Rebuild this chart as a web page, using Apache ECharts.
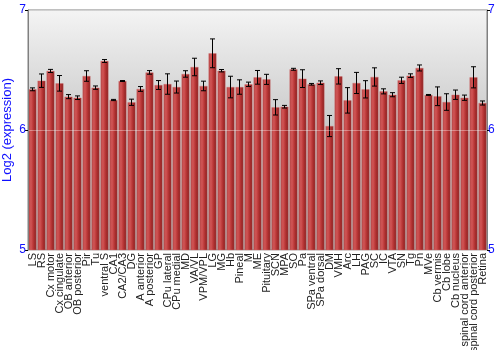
<!DOCTYPE html>
<html><head><meta charset="utf-8">
<script src="https://cdn.jsdelivr.net/npm/echarts@6/dist/echarts.min.js"></script>
<style>html,body{margin:0;padding:0;background:#fff}#c{width:500px;height:350px}</style>
</head><body><div id="c"></div>
<script>
const categories = ["LS","RS","Cx motor","Cx cingulate","OB anterior","OB posterior","Pir","Tu","ventral S","CA1","CA2/CA3","DG","A anterior","A posterior","GP","CPu lateral","CPu medial","MD","VA/VL","VPM/VPL","LG","MG","Hb","Pineal","M","ME","Pituitary","SCN","MPA","SO","Pa","SPa ventral","SPa dorsal","DM","VMH","Arc","LH","PAG","SC","IC","VTA","SN","Tg","Pn","MVe","Cb vermis","Cb lobe","Cb nucleus","spinal cord anterior","spinal cord posterior","Retina"];
const values = [6.339,6.411,6.492,6.389,6.278,6.269,6.450,6.353,6.575,6.250,6.408,6.231,6.342,6.480,6.375,6.383,6.358,6.467,6.525,6.367,6.639,6.494,6.358,6.358,6.381,6.439,6.422,6.189,6.194,6.506,6.428,6.381,6.394,6.033,6.447,6.247,6.392,6.339,6.442,6.322,6.294,6.414,6.453,6.517,6.292,6.281,6.233,6.294,6.269,6.439,6.225];
const errors = [0.012,0.056,0.013,0.065,0.017,0.015,0.044,0.014,0.012,0.005,0.004,0.026,0.020,0.015,0.037,0.085,0.050,0.027,0.073,0.040,0.120,0.010,0.090,0.060,0.018,0.057,0.042,0.064,0.011,0.008,0.074,0.007,0.015,0.088,0.064,0.106,0.088,0.072,0.076,0.021,0.017,0.026,0.015,0.025,0.004,0.078,0.069,0.039,0.022,0.088,0.017];
const yTicks = [5, 6, 7];

const chart = echarts.init(document.getElementById('c'), null, {renderer:'canvas'});
const blue = '#1010ff';
const yAxisBase = {
  type:'value', min:5, max:7, interval:1, z:5,
  axisLine:{show:true, lineStyle:{color:'#808080', width:1}},
  axisTick:{show:true, length:3, lineStyle:{color:'#000'}},
  splitLine:{show:true, lineStyle:{color:'rgba(255,255,255,0.35)', width:1}},
  axisLabel:{color:blue, fontSize:12, fontFamily:'Liberation Sans, Arial', margin:2}
};
chart.setOption({
  animation:false,
  grid:{left:28, right:13, top:10, bottom:100, show:true, outerBoundsMode:'none', containLabel:false,
    backgroundColor:{type:'linear',x:0,y:0,x2:0,y2:1,colorStops:[{offset:0,color:'#f4f4f4'},{offset:0.5,color:'#c8c8c8'},{offset:1,color:'#a8a8a8'}]},
    borderColor:'#808080', borderWidth:1},
  xAxis:{type:'category', data:categories,
    axisLine:{show:false}, axisTick:{show:false},
    axisLabel:{rotate:90, interval:0, fontSize:11, color:'#222', fontFamily:'Liberation Sans, Arial', margin:3}},
  yAxis:[
    Object.assign({}, yAxisBase, {position:'left', name:'Log2 (expression)', nameLocation:'middle', nameGap:14, nameMoveOverlap:false,
      nameTextStyle:{color:blue, fontSize:13, fontFamily:'Liberation Sans, Arial'}}),
    Object.assign({}, yAxisBase, {position:'right', splitLine:{show:false},
      axisLabel:{color:blue, fontSize:12, fontFamily:'Liberation Sans, Arial', margin:1}})
  ],
  series:[
    {type:'bar', data:values, barCategoryGap:'12%',
     itemStyle:{color:{type:'linear',x:0,y:0,x2:1,y2:0,colorStops:[{offset:0,color:'#b04040'},{offset:0.3,color:'#d25656'},{offset:0.6,color:'#b83636'},{offset:1,color:'#861d1d'}]},
       borderColor:'rgba(210,110,110,0.8)', borderWidth:0.5}},
    {type:'custom', z:4,
     data:values.map((v,i)=>[i, v-errors[i], v+errors[i]]),
     encode:{x:0, y:[1,2]},
     renderItem:function(params, api){
       const lo = api.coord([api.value(0), api.value(1)]);
       const hi = api.coord([api.value(0), api.value(2)]);
       const w = 2.5;
       const s = {stroke:'#000', lineWidth:1};
       return {type:'group', children:[
         {type:'line', shape:{x1:lo[0],y1:lo[1],x2:hi[0],y2:hi[1]}, style:s},
         {type:'line', shape:{x1:lo[0]-w,y1:lo[1],x2:lo[0]+w,y2:lo[1]}, style:s},
         {type:'line', shape:{x1:hi[0]-w,y1:hi[1],x2:hi[0]+w,y2:hi[1]}, style:s}
       ]};
     }}
  ]
});
</script></body></html>
